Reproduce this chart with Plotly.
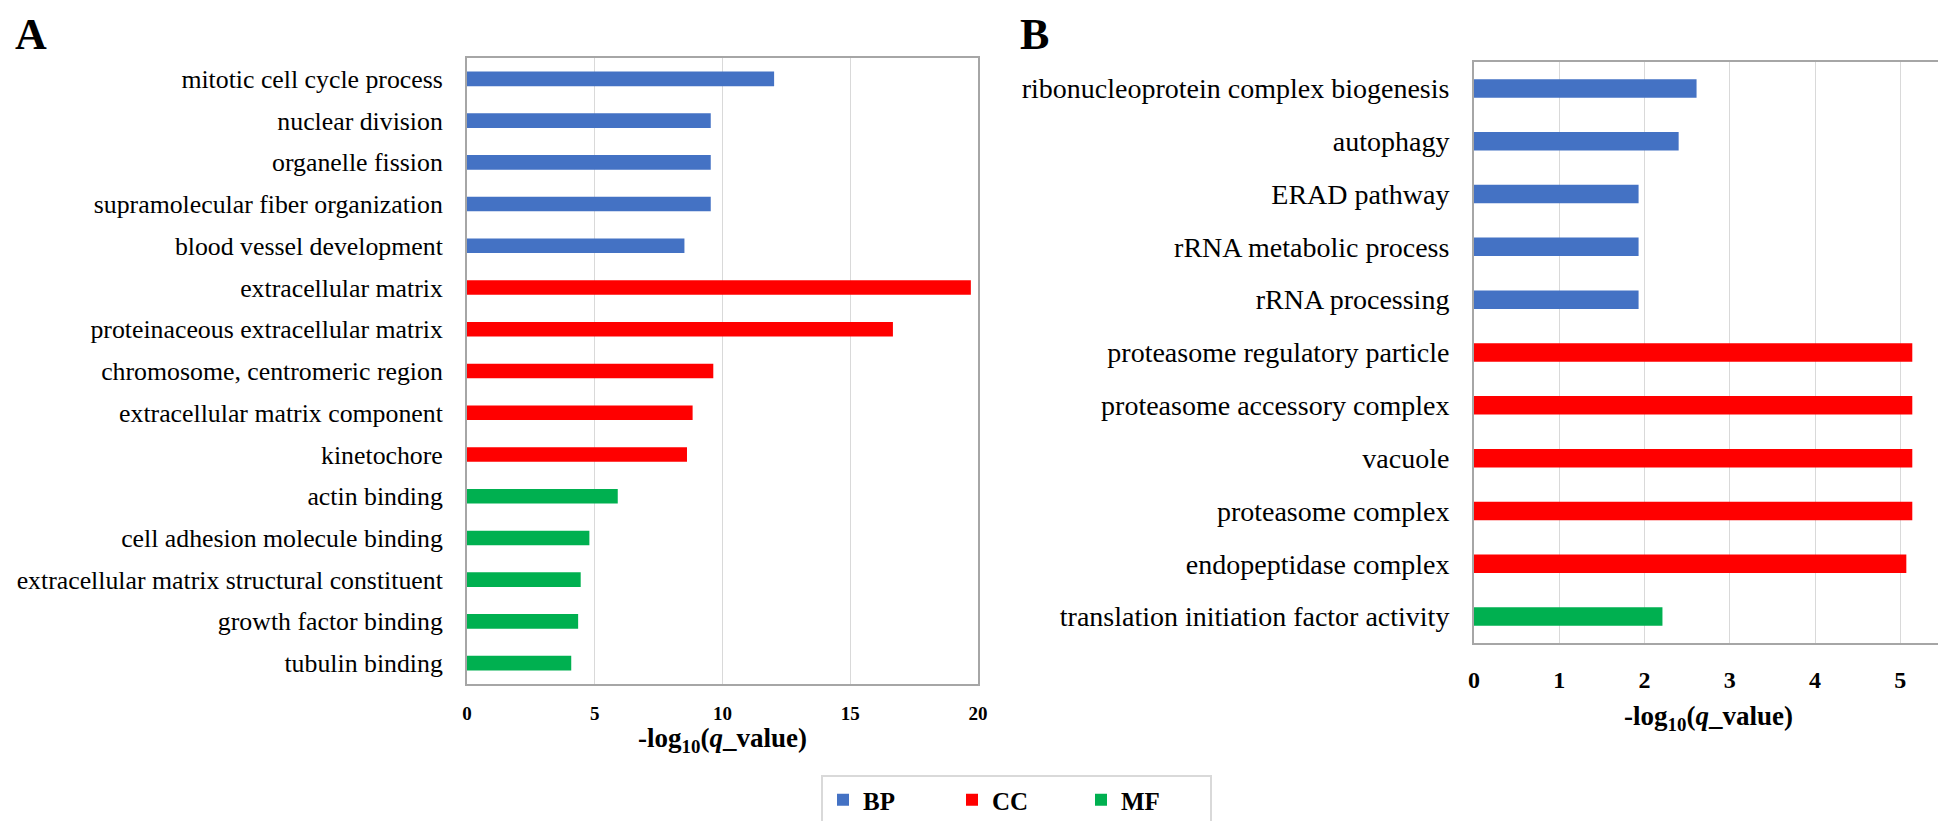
import plotly.graph_objects as go

# ---- Panel A data ----
a_bp_terms = ["mitotic cell cycle process", "nuclear division", "organelle fission",
              "supramolecular fiber organization", "blood vessel development"]
a_bp_vals = [12.02, 9.54, 9.54, 9.54, 8.51]
a_cc_terms = ["extracellular matrix", "proteinaceous extracellular matrix",
              "chromosome, centromeric region", "extracellular matrix component", "kinetochore"]
a_cc_vals = [19.72, 16.67, 9.64, 8.83, 8.61]
a_mf_terms = ["actin binding", "cell adhesion molecule binding",
              "extracellular matrix structural constituent", "growth factor binding", "tubulin binding"]
a_mf_vals = [5.90, 4.79, 4.45, 4.35, 4.08]
a_ticks = [0, 5, 10, 15, 20]

# ---- Panel B data ----
b_bp_terms = ["ribonucleoprotein complex biogenesis", "autophagy", "ERAD pathway",
              "rRNA metabolic process", "rRNA processing"]
b_bp_vals = [2.61, 2.40, 1.93, 1.93, 1.93]
b_cc_terms = ["proteasome regulatory particle", "proteasome accessory complex", "vacuole",
              "proteasome complex", "endopeptidase complex"]
b_cc_vals = [5.14, 5.14, 5.14, 5.14, 5.07]
b_mf_terms = ["translation initiation factor activity"]
b_mf_vals = [2.21]
b_ticks = [0, 1, 2, 3, 4, 5]

groups = ["BP", "CC", "MF"]
colors = {"BP": "#4472C4", "CC": "#FF0000", "MF": "#00B050"}
SERIF = "Liberation Serif, Times New Roman, serif"

# page body has an 8px margin: size the figure to fit and offset positions
OFF = 8
W, H = 1946 - OFF, 821 - OFF

fig = go.Figure()

panelA = [(a_bp_terms, a_bp_vals), (a_cc_terms, a_cc_vals), (a_mf_terms, a_mf_vals)]
panelB = [(b_bp_terms, b_bp_vals), (b_cc_terms, b_cc_vals), (b_mf_terms, b_mf_vals)]

for g, (t, v) in zip(groups, panelA):
    fig.add_trace(go.Bar(x=v, y=t, orientation="h", name=g, legendgroup=g,
                         marker=dict(color=colors[g], line=dict(width=0)),
                         width=0.35, xaxis="x", yaxis="y", showlegend=True))
for g, (t, v) in zip(groups, panelB):
    fig.add_trace(go.Bar(x=v, y=t, orientation="h", name=g, legendgroup=g,
                         marker=dict(color=colors[g], line=dict(width=0)),
                         width=0.35, xaxis="x2", yaxis="y2", showlegend=False))

catsA = a_bp_terms + a_cc_terms + a_mf_terms
catsB = b_bp_terms + b_cc_terms + b_mf_terms

def px_x(p):
    return (p - OFF) / W

def px_y(p):
    return 1 - (p - OFF) / H

frame = dict(showline=True, linecolor="#A6A6A6", linewidth=2, mirror=True, automargin=False)

fig.update_layout(
    width=W, height=H,
    margin=dict(l=0, r=0, t=0, b=0, autoexpand=False),
    paper_bgcolor="white", plot_bgcolor="white",
    barmode="overlay",
    font=dict(family=SERIF, color="black"),
    xaxis=dict(domain=[px_x(467), px_x(978)], anchor="y", range=[0, 20],
               tickvals=a_ticks, showgrid=True, gridcolor="#D9D9D9", gridwidth=1,
               zeroline=False, ticks="outside", ticklen=11, tickcolor="rgba(0,0,0,0)",
               tickfont=dict(size=19, family=SERIF, weight="bold"), **frame),
    yaxis=dict(domain=[px_y(684), px_y(58)], anchor="x", type="category",
               categoryorder="array", categoryarray=catsA, autorange="reversed",
               range=[len(catsA) - 0.5, -0.5], showgrid=False, zeroline=False,
               ticks="outside", ticklen=17, tickcolor="rgba(0,0,0,0)",
               tickfont=dict(size=25.8, family=SERIF), **frame),
    xaxis2=dict(domain=[px_x(1474), px_x(1943)], anchor="y2", range=[0, 5.5],
                tickvals=b_ticks, showgrid=True, gridcolor="#D9D9D9", gridwidth=1,
                zeroline=False, ticks="outside", ticklen=14, tickcolor="rgba(0,0,0,0)",
                tickfont=dict(size=24, family=SERIF, weight="bold"), **frame),
    yaxis2=dict(domain=[px_y(643), px_y(62)], anchor="x2", type="category",
                categoryorder="array", categoryarray=catsB, autorange="reversed",
                range=[len(catsB) - 0.5, -0.5], showgrid=False, zeroline=False,
                ticks="outside", ticklen=17, tickcolor="rgba(0,0,0,0)",
                tickfont=dict(size=28, family=SERIF), **frame),
    legend=dict(orientation="h", x=px_x(821), y=px_y(775), xanchor="left", yanchor="top",
                bordercolor="#D9D9D9", borderwidth=2,
                font=dict(size=25, family=SERIF, weight="bold"),
                entrywidth=84, entrywidthmode="pixels", traceorder="normal"),
    showlegend=True,
)

title_txt = "-log<sub>10</sub>(<i>q</i>_value)"
fig.add_annotation(text=title_txt, xref="paper", yref="paper",
                   x=px_x(722), y=px_y(740), xanchor="center", yanchor="middle",
                   showarrow=False, font=dict(size=27, family=SERIF, weight="bold"))
fig.add_annotation(text=title_txt, xref="paper", yref="paper",
                   x=px_x(1708), y=px_y(718), xanchor="center", yanchor="middle",
                   showarrow=False, font=dict(size=27, family=SERIF, weight="bold"))
fig.add_annotation(text="A", xref="paper", yref="paper", x=px_x(13), y=px_y(8),
                   xanchor="left", yanchor="top", showarrow=False,
                   font=dict(size=44, family=SERIF, weight="bold"))
fig.add_annotation(text="B", xref="paper", yref="paper", x=px_x(1018), y=px_y(8),
                   xanchor="left", yanchor="top", showarrow=False,
                   font=dict(size=44, family=SERIF, weight="bold"))

fig.write_html("out.html")
